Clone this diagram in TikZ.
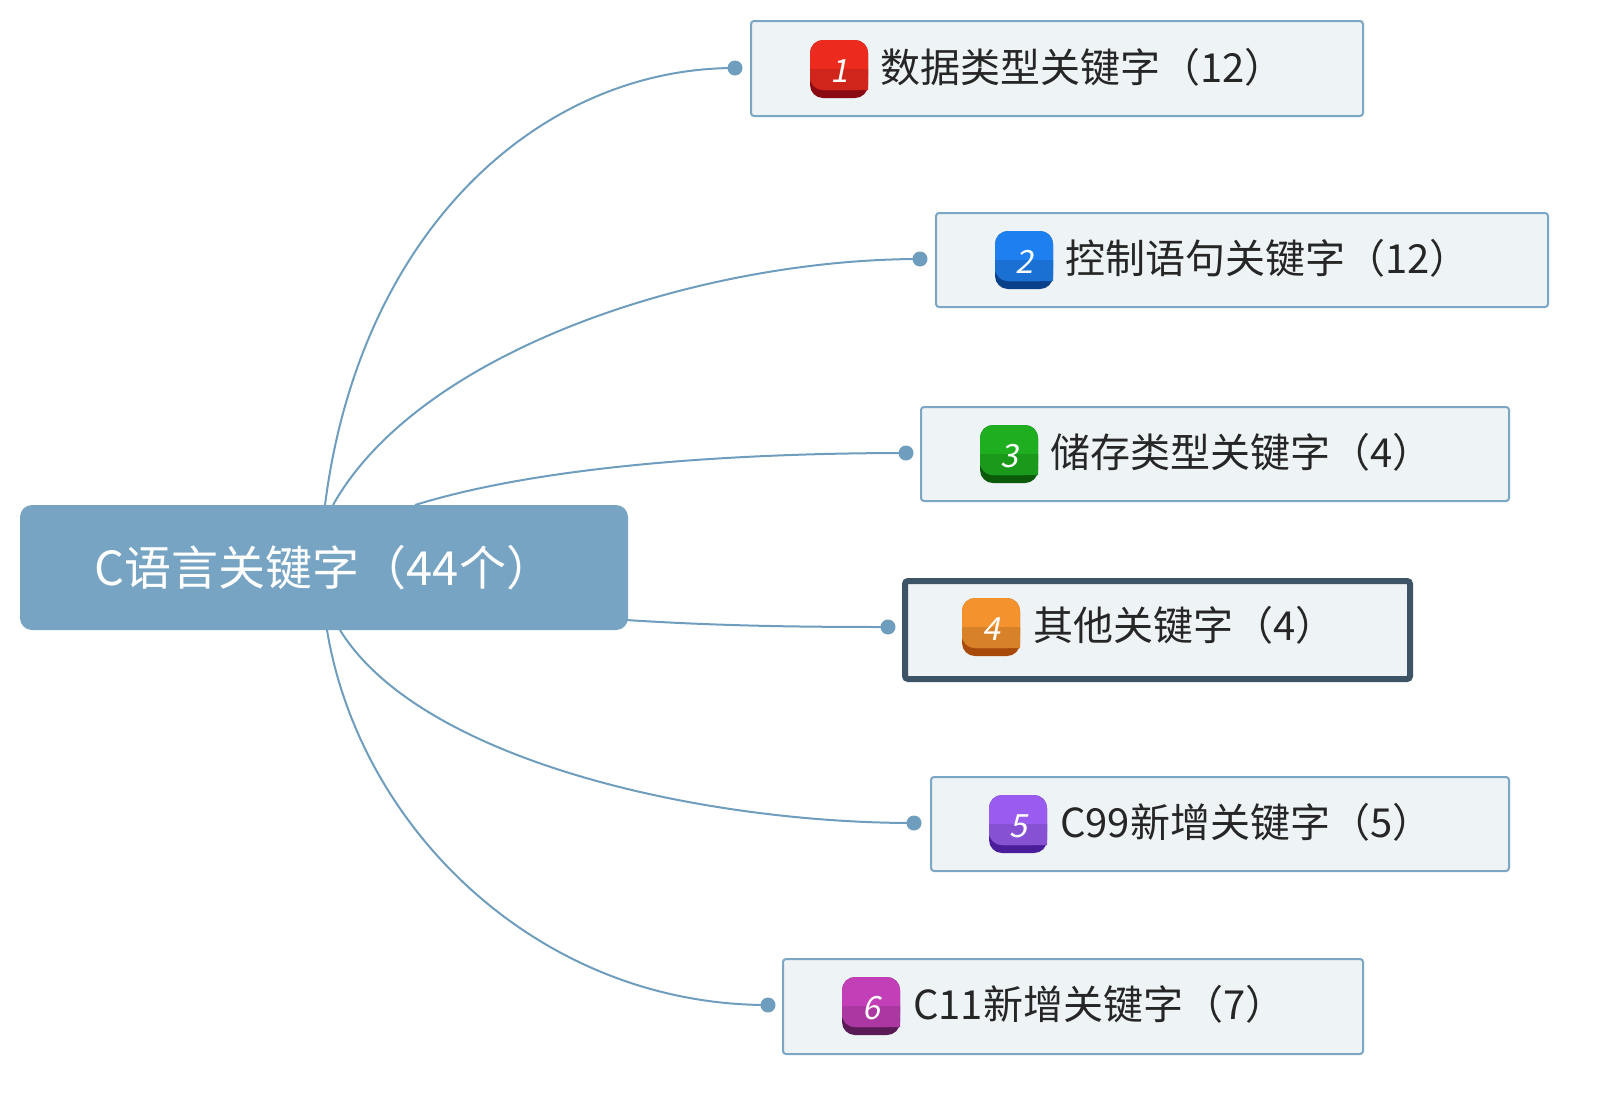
\documentclass[tikz,border=0pt]{standalone}
\usepackage{fontspec}
\setmainfont{Noto Sans CJK SC}
\newfontfamily\slantf{Noto Sans CJK SC}[FakeSlant=0.2]
\usetikzlibrary{calc}
\definecolor{rootc}{HTML}{76A4C2}
\definecolor{boxf}{HTML}{EEF3F6}
\definecolor{boxd}{HTML}{7BA6C4}
\definecolor{dark}{HTML}{3D5466}
\definecolor{lnc}{HTML}{6E9DBD}
\definecolor{r1}{HTML}{EC2A1E}\definecolor{r2}{HTML}{8A0A14}
\definecolor{b1c}{HTML}{1E7FF0}\definecolor{b2c}{HTML}{0A3F8A}
\definecolor{g1}{HTML}{1FAE1F}\definecolor{g2}{HTML}{0A5A0A}
\definecolor{o1}{HTML}{F4922E}\definecolor{o2}{HTML}{A84A0A}
\definecolor{p1}{HTML}{9A5CF0}\definecolor{p2}{HTML}{4A1E9A}
\definecolor{m1}{HTML}{C23FB8}\definecolor{m2}{HTML}{5A1A55}
\newcommand\myicon[5]{%
 \fill[#4,rounded corners=13pt] ($(#1)+(-29,-29)$) rectangle ($(#1)+(29,29)$);
 \fill[#3,rounded corners=13pt] ($(#1)+(-29,-29)$) rectangle ($(#1)+(29,21)$);
 \fill[#3!88!black] ($(#1)+(-29,0)$) [rounded corners=13pt] -- ($(#1)+(-29,21)$) [sharp corners]-- ($(#1)+(29,21)$) -- ($(#1)+(29,0)$) -- cycle;
 \fill[#3!88!black] ($(#1)+(-29,0)$) rectangle ($(#1)+(29,12)$);
 \node[text=white,font=\fontsize{32}{34}\slantf] (#2) at ($(#1)+(0,2)$) {#5};}
\begin{document}
\begin{tikzpicture}[x=1pt,y=-1pt,
 box/.style={draw=boxd,line width=2pt,fill=boxf,rounded corners=3pt,anchor=north west,inner sep=0pt},
 lbl/.style={font=\fontsize{40}{44}\selectfont,anchor=west,text=black!85,inner sep=0pt},
 conn/.style={draw=lnc,line width=2pt},
 dot/.style={circle,fill=lnc,inner sep=0pt,minimum size=15pt}]
\useasboundingbox (0,0) rectangle (1600,1096);
\node[fill=rootc,rounded corners=12pt,minimum width=608pt,minimum height=125pt,inner sep=0pt,text=white,font=\fontsize{47}{50}\selectfont] (root) at (324,567.5) {C语言关键字（44个）};
\node[box,minimum width=612pt,minimum height=95pt] (b1) at (750,20) {};
\node[box,minimum width=612pt,minimum height=94pt] (b2) at (935,212) {};
\node[box,minimum width=588pt,minimum height=94pt] (b3) at (920,406) {};
\node[box,draw=dark,line width=6pt,minimum width=505pt,minimum height=98pt] (b4) at (902,578) {};
\node[box,minimum width=578pt,minimum height=94pt] (b5) at (930,776) {};
\node[box,minimum width=580pt,minimum height=95pt] (b6) at (782,958) {};
\coordinate (i1) at (839,69);\coordinate (i2) at (1024,260);\coordinate (i3) at (1009,454);
\coordinate (i4) at (991,627);\coordinate (i5) at (1018,824);\coordinate (i6) at (871,1006);
\myicon{i1}{n1}{r1}{r2}{1}
\myicon{i2}{n2}{b1c}{b2c}{2}
\myicon{i3}{n3}{g1}{g2}{3}
\myicon{i4}{n4}{o1}{o2}{4}
\myicon{i5}{n5}{p1}{p2}{5}
\myicon{i6}{n6}{m1}{m2}{6}
\node[lbl] (t1) at (880,67) {数据类型关键字（12）};
\node[lbl] (t2) at (1065,258) {控制语句关键字（12）};
\node[lbl] (t3) at (1050,452) {储存类型关键字（4）};
\node[lbl] (t4) at (1033,625) {其他关键字（4）};
\node[lbl] (t5) at (1060,822) {C99新增关键字（5）};
\node[lbl] (t6) at (913,1004) {C11新增关键字（7）};
\coordinate (s1) at (325,505);\coordinate (s2) at (333,505);\coordinate (s3) at (415,505);
\coordinate (s4) at (626,620);\coordinate (s5) at (340,630);\coordinate (s6) at (327,630);
\node[dot] (d1) at (735,68) {};\node[dot] (d2) at (920,259) {};\node[dot] (d3) at (906,453) {};
\node[dot] (d4) at (888,627) {};\node[dot] (d5) at (914,823) {};\node[dot] (d6) at (768,1005) {};
\draw[conn] (s1) .. controls (360,230) and (540,68) .. (d1.center);
\draw[conn] (s2) .. controls (420,350) and (700,259) .. (d2.center);
\draw[conn] (s3) .. controls (560,460) and (780,453) .. (d3.center);
\draw[conn] (s4) .. controls (720,626) and (800,627) .. (d4.center);
\draw[conn] (s5) .. controls (420,760) and (700,823) .. (d5.center);
\draw[conn] (s6) .. controls (360,830) and (540,1005) .. (d6.center);
\end{tikzpicture}
\end{document}
